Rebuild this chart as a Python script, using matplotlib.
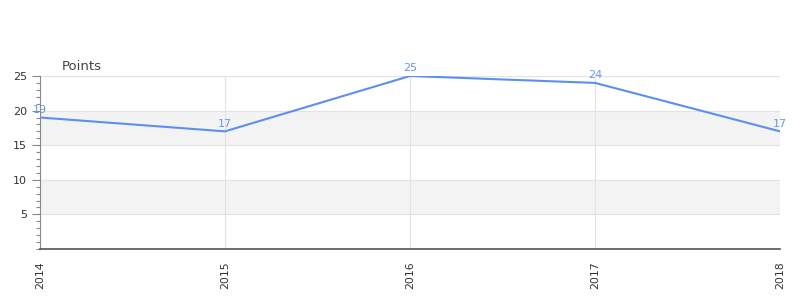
import matplotlib
matplotlib.use("Agg")
import matplotlib.pyplot as plt
from matplotlib.ticker import MultipleLocator

years = ["2014", "2015", "2016", "2017", "2018"]
points = [19, 17, 25, 24, 17]
y_ticks = [5, 10, 15, 20, 25]
title = "Points"

fig = plt.figure(figsize=(8, 3), dpi=100)
ax = fig.add_axes([0.05, 0.17, 0.925, 0.5767])
x = list(range(len(years)))

ax.set_xlim(0, len(years) - 1)
ax.set_ylim(0, 25)

# alternating bands
ax.axhspan(5, 10, color="#f3f3f3", zorder=0, lw=0)
ax.axhspan(15, 20, color="#f3f3f3", zorder=0, lw=0)
for yv in y_ticks:
    ax.axhline(yv, color="#e2e2e2", lw=0.8, zorder=1)
for xv in x:
    ax.axvline(xv, color="#e2e2e2", lw=0.8, zorder=1)

ax.plot(x, points, color="#5b8ff0", lw=1.5, zorder=3)
for xi, v in zip(x, points):
    ax.annotate(str(v), (xi, v), xytext=(0, 2), textcoords="offset points",
                ha="center", va="bottom", fontsize=8, color="#6a96e0", zorder=4)

ax.set_xticks(x)
ax.set_xticklabels(years, rotation=90, fontsize=7.8, color="#333333")
ax.set_yticks(y_ticks)
ax.set_yticklabels([str(t) for t in y_ticks], fontsize=8, color="#333333")
ax.yaxis.set_minor_locator(MultipleLocator(1))
ax.tick_params(axis="y", which="major", length=6, color="#888888", width=0.8)
ax.tick_params(axis="y", which="minor", length=3, color="#888888", width=0.8)
ax.tick_params(axis="x", length=0, pad=9)

for s in ["top", "right"]:
    ax.spines[s].set_visible(False)
ax.spines["left"].set_color("#888888")
ax.spines["left"].set_linewidth(0.8)
ax.spines["bottom"].set_color("#555555")
ax.spines["bottom"].set_linewidth(1.2)
ax.spines["bottom"].set_zorder(5)

fig.text(62 / 800, 1 - 66 / 300, title, fontsize=9.5, color="#444444", ha="left", va="center")

fig.savefig("out.png", dpi=100)
